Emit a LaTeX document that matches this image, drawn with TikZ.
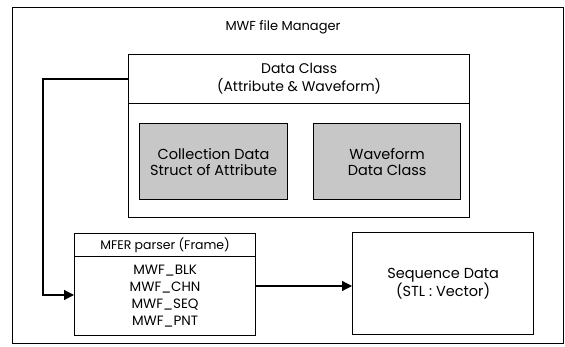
\documentclass[tikz,border=0pt]{standalone}
\usepackage{fontspec}
\setmainfont{Poppins}
\usetikzlibrary{arrows.meta}
\begin{document}
\begin{tikzpicture}[x=1pt,y=-1pt,
  frame/.style={draw, line width=0.8pt, inner sep=0pt, anchor=north west},
  box/.style={draw, line width=1.2pt, inner sep=0pt, anchor=north west,
    align=center, font=\fontsize{14}{17}\selectfont},
  greybox/.style={box, fill=black!22, font=\fontsize{14.5}{16}\selectfont},
  lbl/.style={inner sep=0pt, align=center, font=\fontsize{13}{16}\selectfont},
  conn/.style={line width=1.2pt, -{Triangle[length=10pt,width=10pt]}}]
\useasboundingbox (0,0) rectangle (565,347);
\fill[white] (0,0) rectangle (565,347);

% outer manager frame
\node[frame, minimum width=551pt, minimum height=336pt] (mgr) at (12,7) {};
\node[lbl] (mgrlbl) at (283,27) {MWF file Manager};

% data class: header and body
\node[box, minimum width=341pt, minimum height=49pt,
  font=\fontsize{14}{18}\selectfont] (dchead) at (128,54)
  {Data Class\\(Attribute \& Waveform)};
\node[box, minimum width=341pt, minimum height=114pt] (dcbody) at (128,103) {};
\node[greybox, minimum width=148pt, minimum height=76pt] (coll) at (139,123)
  {Collection Data\\Struct of Attribute};
\node[greybox, minimum width=147pt, minimum height=76pt] (wave) at (313,123)
  {Waveform\\Data Class};

% MFER parser: header and body
\node[box, minimum width=181pt, minimum height=23pt,
  font=\fontsize{12.5}{15}\selectfont] (mferhead) at (74,233)
  {MFER parser (Frame)};
\node[box, minimum width=181pt, minimum height=79pt,
  font=\fontsize{13.5}{17}\selectfont] (mferbody) at (74,256)
  {MWF\_BLK\\MWF\_CHN\\MWF\_SEQ\\MWF\_PNT};

% sequence data
\node[box, minimum width=181pt, minimum height=102pt,
  font=\fontsize{14.5}{16}\selectfont] (seq) at (352,232)
  {Sequence Data\\(STL : Vector)};

% connectors
\coordinate (turn) at (43,295);
\draw[conn] (dchead.west) -| (turn) -- (turn -| mferbody.west);
\coordinate (link) at (255,286);
\draw[conn] (link) -- (link -| seq.west);
\end{tikzpicture}
\end{document}
